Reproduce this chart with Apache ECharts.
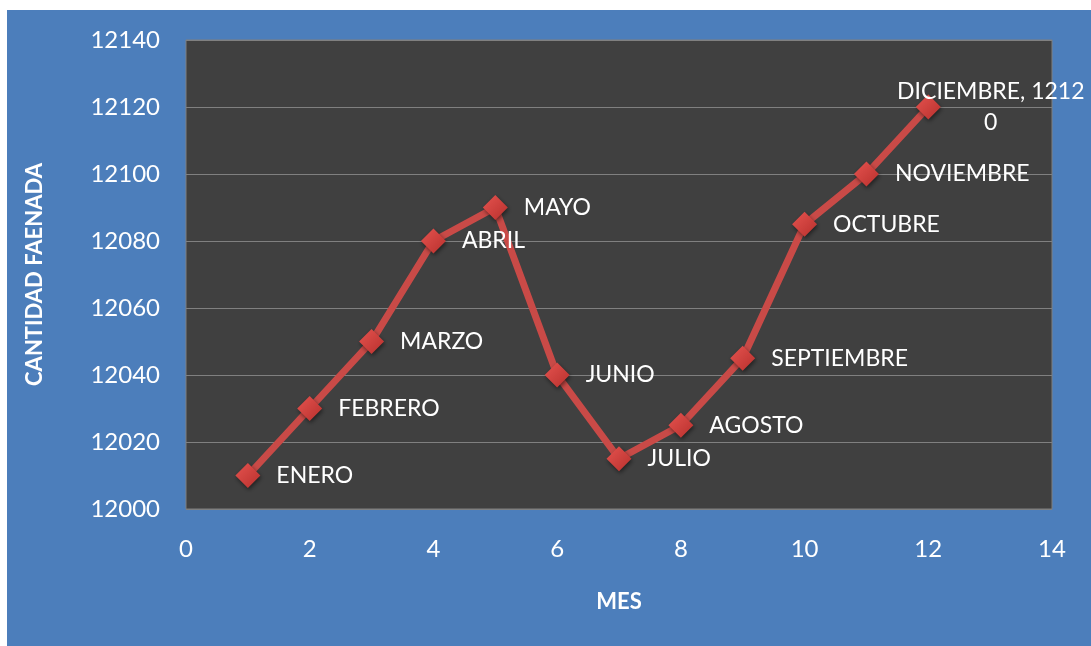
<!DOCTYPE html>
<html>
<head>
<meta charset="utf-8">
<script src="https://cdn.jsdelivr.net/npm/echarts@6/dist/echarts.min.js"></script>
<style>
  html, body { margin: 0; padding: 0; background: #ffffff; width: 1091px; height: 646px; overflow: hidden; }
  #chart { position: absolute; left: 7px; top: 10px; width: 1084px; height: 636px; background: #4c7ebb; }
</style>
</head>
<body>
<div id="chart"></div>
<script>
const meses = ['ENERO', 'FEBRERO', 'MARZO', 'ABRIL', 'MAYO', 'JUNIO', 'JULIO', 'AGOSTO', 'SEPTIEMBRE', 'OCTUBRE', 'NOVIEMBRE', 'DICIEMBRE'];
const mesNumero = [1, 2, 3, 4, 5, 6, 7, 8, 9, 10, 11, 12];
const cantidad = [12010, 12030, 12050, 12080, 12090, 12040, 12015, 12025, 12045, 12085, 12100, 12120];
const xTicks = [0, 2, 4, 6, 8, 10, 12, 14];
const yTicks = [12000, 12020, 12040, 12060, 12080, 12100, 12120, 12140];

const FONT = 'Lato';
const chart = echarts.init(document.getElementById('chart'));

const data = mesNumero.map((m, i) => {
  const item = { value: [m, cantidad[i]], name: meses[i] };
  if (i === meses.length - 1) {
    item.label = {
      position: [75, 13],
      align: 'center',
      verticalAlign: 'middle',
      formatter: (p) => {
        const s = p.name + ', ' + p.value[1];
        return s.slice(0, s.length - 1) + '\n' + s.slice(s.length - 1);
      },
      lineHeight: 31
    };
  }
  return item;
});

chart.setOption({
  backgroundColor: '#4c7ebb',
  animation: false,
  grid: {
    left: 179, top: 30, right: 39, bottom: 137,
    show: true, backgroundColor: '#404040', borderColor: '#7f7f7f', borderWidth: 1
  },
  xAxis: {
    type: 'value', min: xTicks[0], max: xTicks[xTicks.length - 1], interval: 2,
    name: 'MES', nameLocation: 'middle', nameGap: 82,
    nameTextStyle: { color: '#ffffff', fontFamily: FONT, fontWeight: 'bold', fontSize: 22 },
    axisLine: { show: false }, axisTick: { show: false },
    splitLine: { show: false },
    axisLabel: { color: '#ffffff', fontFamily: FONT, fontSize: 24, margin: 28, formatter: (v) => String(v) }
  },
  yAxis: {
    type: 'value', min: yTicks[0], max: yTicks[yTicks.length - 1], interval: 20,
    name: 'CANTIDAD FAENADA', nameLocation: 'middle', nameGap: 140,
    nameTextStyle: { color: '#ffffff', fontFamily: FONT, fontWeight: 'bold', fontSize: 22 },
    axisLine: { show: false }, axisTick: { show: false },
    splitLine: { show: true, lineStyle: { color: '#808080', width: 1 } },
    axisLabel: { color: '#ffffff', fontFamily: FONT, fontSize: 24, margin: 26, formatter: (v) => String(v) }
  },
  series: [{
    type: 'line',
    data: data,
    symbol: 'diamond',
    symbolSize: 25,
    lineStyle: { color: '#c94a47', width: 7 },
    itemStyle: {
      color: new echarts.graphic.LinearGradient(0, 0, 1, 1, [
        { offset: 0, color: '#e5534f' },
        { offset: 1, color: '#b8302d' }
      ]),
      shadowColor: 'rgba(0,0,0,0.5)', shadowBlur: 4, shadowOffsetX: 1, shadowOffsetY: 2
    },
    label: {
      show: true, position: 'right', distance: 16,
      color: '#ffffff', fontFamily: FONT, fontSize: 23,
      formatter: (p) => p.name
    },
    z: 3
  }]
});
</script>
</body>
</html>
